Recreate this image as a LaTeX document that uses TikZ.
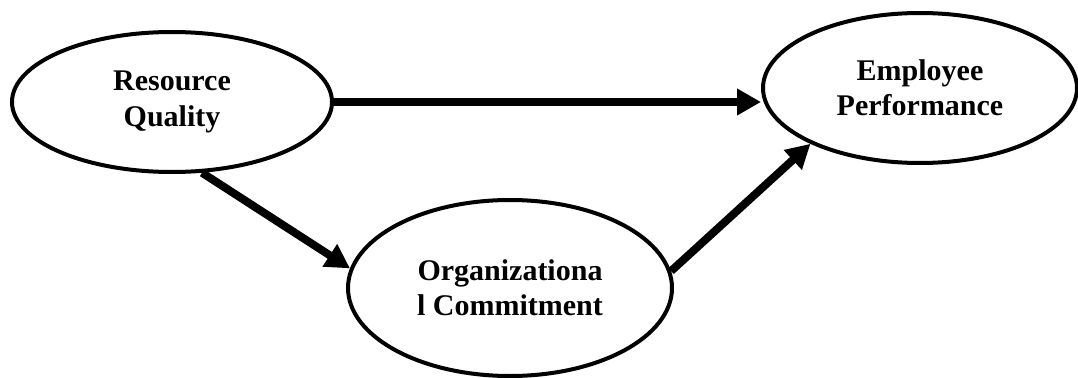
\documentclass[tikz,border=0pt]{standalone}
\usepackage{fontspec}
\setmainfont{Liberation Serif}
\usetikzlibrary{shapes.geometric,arrows.meta}
\begin{document}
\begin{tikzpicture}[x=0.75pt,y=-0.75pt,
  oval/.style={ellipse,draw=black,line width=3pt,inner sep=0pt,align=center,
    font=\fontsize{22.5}{26.5}\selectfont\bfseries},
  link/.style={line width=6pt,-{Triangle[length=18pt,width=19pt]},shorten >=0pt}]
\useasboundingbox (0,0) rectangle (1078,378);
\node[oval,minimum width=240pt,minimum height=105pt] (rq) at (172,102) {Resource\\Quality};
\node[oval,minimum width=235.5pt,minimum height=112.5pt] (ep) at (920,88) {Employee\\Performance};
\node[oval,minimum width=243pt,minimum height=132pt] (oc) at (510,288) {Organizationa\\l Commitment};
\draw[link] (rq.east) -- (rq.east -| ep.west);
\draw[link] (rq.-67.7) -- (oc.173.6);
\draw[link] (oc.6.5) -- (ep.-153.4);
\end{tikzpicture}
\end{document}
